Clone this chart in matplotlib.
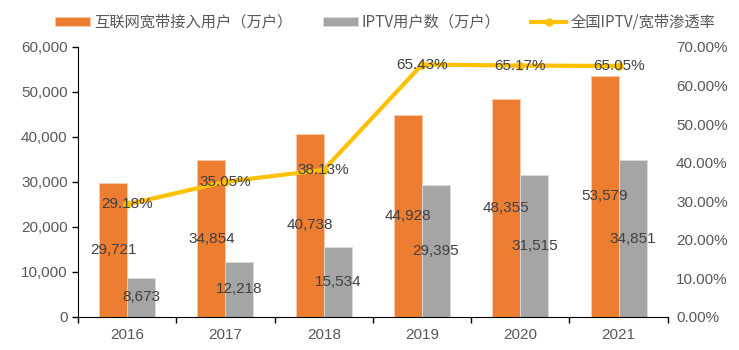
import numpy as np
import matplotlib.pyplot as plt
from matplotlib.ticker import FuncFormatter

plt.rcParams['font.family'] = ['Liberation Sans', 'Noto Sans CJK SC']

years = ['2016', '2017', '2018', '2019', '2020', '2021']
broadband = [29721, 34854, 40738, 44928, 48355, 53579]
iptv = [8673, 12218, 15534, 29395, 31515, 34851]
rate = [29.18, 35.05, 38.13, 65.43, 65.17, 65.05]

orange = '#ED7D31'
grey = '#A5A5A5'
yellow = '#FFC000'
txt = '#404040'
tick_c = '#595959'

fig = plt.figure(figsize=(7.39, 3.5), dpi=100)
ax = fig.add_axes([0.1056, 0.0943, 0.798, 0.7717])
ax2 = ax.twinx()

x = np.arange(len(years))
w = 0.285
b1 = ax.bar(x - w / 2, broadband, w, color=orange, edgecolor='#F8CBAD', linewidth=0.6,
            label='互联网宽带接入用户（万户）')
b2 = ax.bar(x + w / 2, iptv, w, color=grey, edgecolor='#DBDBDB', linewidth=0.6,
            label='IPTV用户数（万户）')

# 数据标签放在柱子中间
for xi, v in zip(x, broadband):
    ax.text(xi - w / 2, v / 2, f'{v:,}', ha='center', va='center', fontsize=11, color=txt)
for xi, v in zip(x, iptv):
    ax.text(xi + w / 2, v / 2, f'{v:,}', ha='center', va='center', fontsize=11, color=txt)

ln, = ax2.plot(x, rate, color=yellow, lw=3, marker='o', ms=5, label='全国IPTV/宽带渗透率')
for xi, v in zip(x, rate):
    ax2.text(xi, v, f'{v:.2f}%', ha='center', va='center', fontsize=11, color=txt)

ax.set_xlim(-0.5, len(years) - 0.5)
ax.set_ylim(0, 60000)
ax.set_yticks(np.arange(0, 60001, 10000))
ax.yaxis.set_major_formatter(FuncFormatter(lambda v, p: f'{int(v):,}'))
ax2.set_ylim(0, 70)
ax2.set_yticks(np.arange(0, 71, 10))
ax2.yaxis.set_major_formatter(FuncFormatter(lambda v, p: f'{v:.2f}%'))

ax.set_xticks(x)
ax.set_xticklabels(years)
ax.set_xticks(np.arange(-0.5, len(years), 1), minor=True)
ax.tick_params(axis='x', which='major', length=0, pad=8, labelsize=11, labelcolor=tick_c)
ax.tick_params(axis='x', which='minor', length=4, width=1, color='black', direction='out')
ax.tick_params(axis='y', length=4, width=1, labelsize=11, labelcolor=tick_c)
ax2.tick_params(axis='y', length=0, labelsize=11, labelcolor=tick_c, pad=6)

for s in ['top', 'right']:
    ax.spines[s].set_visible(False)
for s in ['top', 'right', 'left', 'bottom']:
    ax2.spines[s].set_visible(False)
ax.spines['left'].set_color('black')
ax.spines['bottom'].set_color('black')

fig.legend(handles=[b1, b2, ln], loc='upper left', bbox_to_anchor=(0.056, 1.0), ncol=3,
           frameon=False, handlelength=2.3, handleheight=0.55,
           columnspacing=2.0, handletextpad=0.25, labelcolor=tick_c,
           prop={'family': ['Noto Sans CJK SC'], 'size': 11})

fig.savefig('out.png', dpi=100)
